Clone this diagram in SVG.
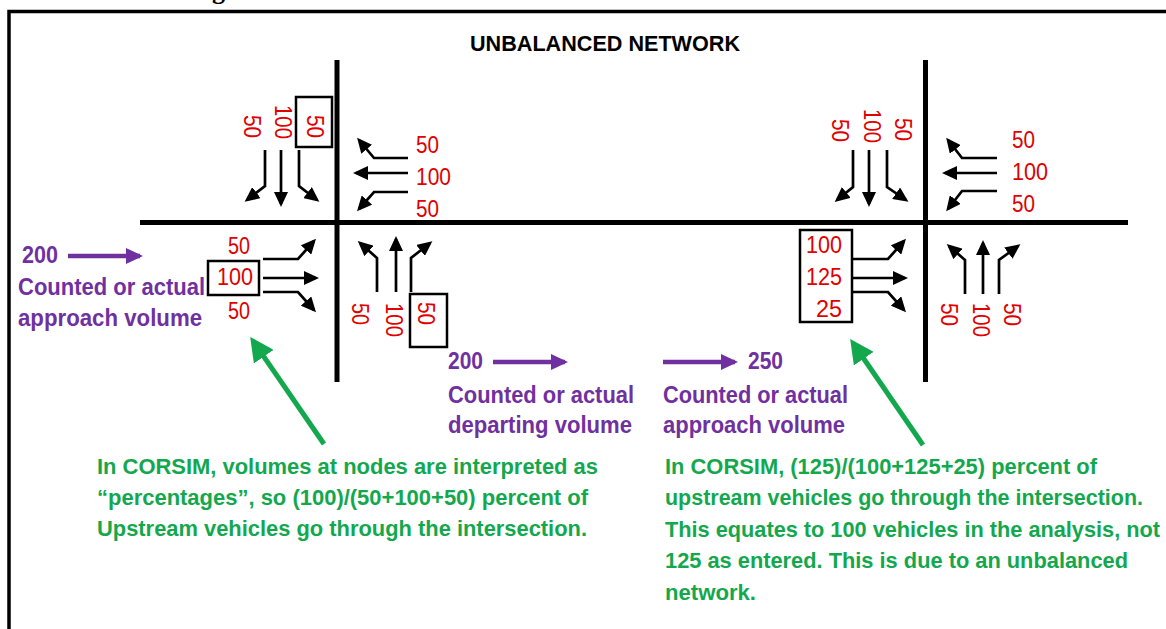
<svg xmlns="http://www.w3.org/2000/svg" width="1166" height="629" viewBox="0 0 1166 629">
<style>
.road{stroke:#000;stroke-width:5;fill:none}
.mv{stroke:#000;stroke-width:2.7;fill:none;marker-end:url(#ab)}
.vol{font-family:"Liberation Sans",Arial,sans-serif;font-size:24px;fill:#e00000}
.box{fill:none;stroke:#000;stroke-width:2.5}
.pl{font-family:"Liberation Sans",Arial,sans-serif;font-size:23.5px;font-weight:bold;fill:#7030a0}
.pa{stroke:#7030a0;stroke-width:4.5;fill:none;marker-end:url(#ap)}
.gl{font-family:"Liberation Sans",Arial,sans-serif;font-size:21.5px;font-weight:bold;fill:#13a84e}
.ga{stroke:#13a84e;stroke-width:5;fill:none;marker-end:url(#ag)}
</style>
<defs>
<marker id="ab" markerUnits="userSpaceOnUse" markerWidth="16" markerHeight="14" refX="12" refY="7" orient="auto"><path d="M0,0 L15,7 L0,14 z" fill="#000"/></marker>
<marker id="ap" markerUnits="userSpaceOnUse" markerWidth="18" markerHeight="16" refX="14" refY="8" orient="auto"><path d="M0,0 L17,8 L0,16 z" fill="#7030a0"/></marker>
<marker id="ag" markerUnits="userSpaceOnUse" markerWidth="25" markerHeight="24" refX="19" refY="12" orient="auto"><path d="M0,0 L24,12 L0,24 z" fill="#13a84e"/></marker>
</defs>
<rect width="1166" height="629" fill="#fff"/>
<text x="212" y="-1" font-family="Liberation Serif,serif" font-weight="bold" font-size="26">g</text>
<path d="M9,629 V11.5 H1166" stroke="#000" stroke-width="3.5" fill="none"/>
<text x="605" y="51" text-anchor="middle" font-family="Liberation Sans,Arial,sans-serif" font-weight="bold" font-size="22" textLength="270" lengthAdjust="spacingAndGlyphs" fill="#000">UNBALANCED NETWORK</text>
<g id="roads">
<path class="road" d="M140,222.5 H1128"/>
<path class="road" d="M337,60 V382"/>
<path class="road" d="M925.5,60 V382"/>
</g>
<g id="node-left">
<g id="left-sb-labels">
<text class="vol" text-anchor="end" textLength="23" lengthAdjust="spacingAndGlyphs" transform="translate(244,138) rotate(90)">50</text>
<text class="vol" text-anchor="end" textLength="34" lengthAdjust="spacingAndGlyphs" transform="translate(275,139) rotate(90)">100</text>
<rect class="box" x="296" y="97" width="36" height="50"/>
<text class="vol" text-anchor="end" textLength="23" lengthAdjust="spacingAndGlyphs" transform="translate(307,138) rotate(90)">50</text>
</g>
<g id="left-wb-labels">
<text class="vol" x="416" y="153" textLength="23" lengthAdjust="spacingAndGlyphs">50</text>
<text class="vol" x="416" y="185" textLength="35" lengthAdjust="spacingAndGlyphs">100</text>
<text class="vol" x="416" y="217" textLength="23" lengthAdjust="spacingAndGlyphs">50</text>
</g>
<g id="left-eb-labels">
<text class="vol" x="228" y="254" textLength="22" lengthAdjust="spacingAndGlyphs">50</text>
<rect class="box" x="208" y="261" width="51" height="34"/>
<text class="vol" x="217" y="285" textLength="36" lengthAdjust="spacingAndGlyphs">100</text>
<text class="vol" x="228" y="319" textLength="22" lengthAdjust="spacingAndGlyphs">50</text>
</g>
<g id="left-nb-labels">
<text class="vol" textLength="22" lengthAdjust="spacingAndGlyphs" transform="translate(352,303) rotate(90)">50</text>
<text class="vol" textLength="34" lengthAdjust="spacingAndGlyphs" transform="translate(386,303) rotate(90)">100</text>
<rect class="box" x="410" y="294" width="37" height="53"/>
<text class="vol" textLength="23" lengthAdjust="spacingAndGlyphs" transform="translate(418,302) rotate(90)">50</text>
</g>
</g>
<g id="node-right">
<g id="right-sb-labels">
<text class="vol" text-anchor="end" textLength="23" lengthAdjust="spacingAndGlyphs" transform="translate(832,142) rotate(90)">50</text>
<text class="vol" text-anchor="end" textLength="34" lengthAdjust="spacingAndGlyphs" transform="translate(864,143) rotate(90)">100</text>
<text class="vol" text-anchor="end" textLength="23" lengthAdjust="spacingAndGlyphs" transform="translate(895,141) rotate(90)">50</text>
</g>
<g id="right-wb-labels">
<text class="vol" x="1012" y="148" textLength="23" lengthAdjust="spacingAndGlyphs">50</text>
<text class="vol" x="1012" y="180" textLength="36" lengthAdjust="spacingAndGlyphs">100</text>
<text class="vol" x="1012" y="212" textLength="23" lengthAdjust="spacingAndGlyphs">50</text>
</g>
<g id="right-eb-labels">
<rect class="box" x="800" y="230" width="52" height="92"/>
<text class="vol" x="806" y="253" textLength="36" lengthAdjust="spacingAndGlyphs">100</text>
<text class="vol" x="806" y="285" textLength="36" lengthAdjust="spacingAndGlyphs">125</text>
<text class="vol" x="816" y="317" textLength="26" lengthAdjust="spacingAndGlyphs">25</text>
</g>
<g id="right-nb-labels">
<text class="vol" textLength="23" lengthAdjust="spacingAndGlyphs" transform="translate(941,303) rotate(90)">50</text>
<text class="vol" textLength="34" lengthAdjust="spacingAndGlyphs" transform="translate(973,303) rotate(90)">100</text>
<text class="vol" textLength="23" lengthAdjust="spacingAndGlyphs" transform="translate(1004,303) rotate(90)">50</text>
</g>
</g>
<g id="volume-left">
<text class="pl" x="22" y="263" textLength="36" lengthAdjust="spacingAndGlyphs">200</text>
<text class="pl" x="18" y="295" textLength="187" lengthAdjust="spacingAndGlyphs">Counted or actual</text>
<text class="pl" x="18" y="326" textLength="184" lengthAdjust="spacingAndGlyphs">approach volume</text>
</g>
<g id="volume-mid">
<text class="pl" x="448" y="369" textLength="35" lengthAdjust="spacingAndGlyphs">200</text>
<text class="pl" x="448" y="403" textLength="186" lengthAdjust="spacingAndGlyphs">Counted or actual</text>
<text class="pl" x="448" y="433" textLength="184" lengthAdjust="spacingAndGlyphs">departing volume</text>
</g>
<g id="volume-right">
<text class="pl" x="748" y="369" textLength="35" lengthAdjust="spacingAndGlyphs">250</text>
<text class="pl" x="663" y="403" textLength="185" lengthAdjust="spacingAndGlyphs">Counted or actual</text>
<text class="pl" x="663" y="433" textLength="182" lengthAdjust="spacingAndGlyphs">approach volume</text>
</g>
<g id="note-left">
<text class="gl" x="97" y="474" textLength="501" lengthAdjust="spacingAndGlyphs">In CORSIM, volumes at nodes are interpreted as</text>
<text class="gl" x="97" y="505" textLength="491" lengthAdjust="spacingAndGlyphs">“percentages”, so (100)/(50+100+50) percent of</text>
<text class="gl" x="97" y="536" textLength="490" lengthAdjust="spacingAndGlyphs">Upstream vehicles go through the intersection.</text>
</g>
<g id="note-right">
<text class="gl" x="665" y="474" textLength="432" lengthAdjust="spacingAndGlyphs">In CORSIM, (125)/(100+125+25) percent of</text>
<text class="gl" x="665" y="505" textLength="478" lengthAdjust="spacingAndGlyphs">upstream vehicles go through the intersection.</text>
<text class="gl" x="665" y="537" textLength="495" lengthAdjust="spacingAndGlyphs">This equates to 100 vehicles in the analysis, not</text>
<text class="gl" x="665" y="568" textLength="463" lengthAdjust="spacingAndGlyphs">125 as entered. This is due to an unbalanced</text>
<text class="gl" x="665" y="600" textLength="91" lengthAdjust="spacingAndGlyphs">network.</text>
</g>
<g id="connectors">
<path class="mv" d="M265,150 V186 L247,200"/>
<path class="mv" d="M281,150 V204"/>
<path class="mv" d="M299,150 V186 L317,200"/>
<path class="mv" d="M408,158 H374 L359,140"/>
<path class="mv" d="M408,173 H356"/>
<path class="mv" d="M408,192 H374 L359,209"/>
<path class="mv" d="M263,259 H298 L314,241"/>
<path class="mv" d="M263,278 H316"/>
<path class="mv" d="M263,292 H298 L314,310"/>
<path class="mv" d="M377,292 V258 L360,243"/>
<path class="mv" d="M396,292 V239"/>
<path class="mv" d="M411,292 V258 L430,243"/>
<path class="mv" d="M853,150 V187 L837,200"/>
<path class="mv" d="M869,150 V204"/>
<path class="mv" d="M887,150 V187 L906,200"/>
<path class="mv" d="M997,158 H962 L948,140"/>
<path class="mv" d="M997,173 H945"/>
<path class="mv" d="M997,191 H962 L948,209"/>
<path class="mv" d="M853,259 H888 L904,241"/>
<path class="mv" d="M853,278 H905"/>
<path class="mv" d="M853,292 H888 L904,310"/>
<path class="mv" d="M965,294 V260 L949,246"/>
<path class="mv" d="M983,294 V243"/>
<path class="mv" d="M999,294 V260 L1018,246"/>
<path class="pa" d="M68,256 H140"/>
<path class="pa" d="M493,362 H565"/>
<path class="pa" d="M663,362 H735"/>
<path class="ga" d="M324,444 L253,341"/>
<path class="ga" d="M923,445 L853,343"/>
</g>
</svg>
